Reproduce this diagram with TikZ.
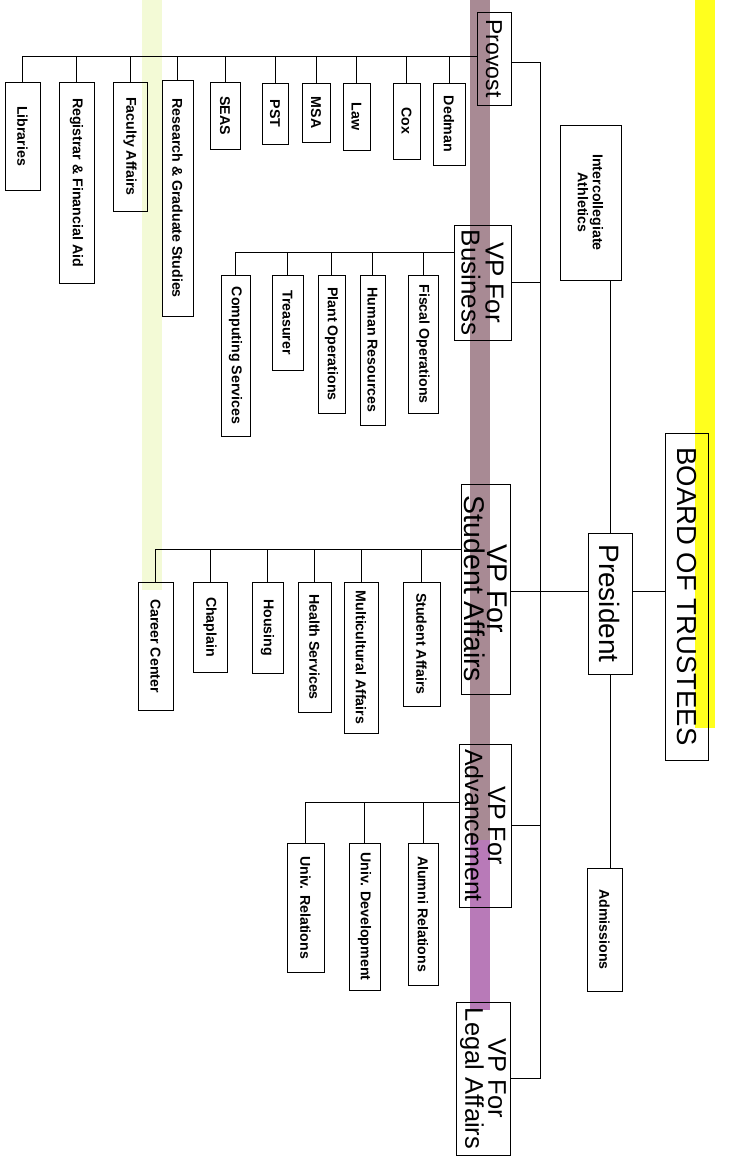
\documentclass[tikz,border=0pt]{standalone}
\usepackage{fontspec}
\setmainfont{Liberation Sans}
\definecolor{stripyellow}{RGB}{255,255,30}
\definecolor{stripmauve}{RGB}{168,138,148}
\definecolor{stripviolet}{RGB}{184,122,184}
\definecolor{stripgreen}{RGB}{243,250,214}
\begin{document}
\begin{tikzpicture}[x=1pt,y=1pt,
  box/.style={draw, line width=0.9pt, rotate=-90, inner sep=0pt, align=center,
              font=\fontsize{14.2}{15}\selectfont\bfseries},
  big/.style={draw, line width=0.9pt, rotate=-90, inner sep=0pt, align=center},
  conn/.style={draw, line width=0.9pt}]
\useasboundingbox (0,0) rectangle (730,-1159);
% colour bands of the reference
\fill[stripyellow] (695,0) rectangle (715,-728);
\fill[stripmauve] (470,0) rectangle (490,-840);
\fill[stripviolet] (470,-840) rectangle (490,-1010);
\fill[stripgreen] (142,0) rectangle (162,-590);

% top level
\node[big, minimum width=327, minimum height=43, font=\fontsize{27.5}{28}\selectfont] (bot) at (686.5,-596.5) {BOARD OF TRUSTEES};
\node[big, minimum width=141, minimum height=44, font=\fontsize{28}{28}\selectfont] (president) at (610,-603.5) {President};
\node[box, minimum width=155, minimum height=61] (ath) at (590.5,-202.5) {Intercollegiate\\Athletics};
\node[box, minimum width=123, minimum height=35] (adm) at (604.5,-929.5) {Admissions};

% VPs
\node[big, minimum width=93, minimum height=34, font=\fontsize{23}{25}\selectfont] (provost) at (494,-58.5) {Provost};
\node[big, minimum width=115, minimum height=57, font=\fontsize{26}{24}\selectfont] (business) at (482.5,-282.5) {VP For\\Business};
\node[big, minimum width=210, minimum height=49, font=\fontsize{28.5}{23}\selectfont] (sa) at (485.5,-589) {VP For\\Student Affairs};
\node[big, minimum width=163, minimum height=52, font=\fontsize{25}{23}\selectfont] (adv) at (485,-825.5) {VP For\\Advancement};
\node[big, minimum width=153, minimum height=54, font=\fontsize{25.5}{23}\selectfont] (legal) at (483,-1078.5) {VP For\\Legal Affairs};

% Provost units
\node[box, minimum width=108, minimum height=35] (lib) at (22.5,-136) {Libraries};
\node[box, minimum width=201, minimum height=35] (reg) at (76.5,-182.5) {Registrar \& Financial Aid};
\node[box, minimum width=129, minimum height=34] (fac) at (130,-146.5) {Faculty Affairs};
\node[box, minimum width=236, minimum height=31] (res) at (177.5,-198) {Research \& Graduate Studies};
\node[box, minimum width=67, minimum height=30] (seas) at (225,-115.5) {SEAS};
\node[box, minimum width=61, minimum height=26] (pst) at (275,-113.5) {PST};
\node[box, minimum width=59, minimum height=28] (msa) at (316,-112.5) {MSA};
\node[box, minimum width=67, minimum height=27] (law) at (356.5,-116.5) {Law};
\node[box, minimum width=76, minimum height=27] (cox) at (406.5,-121) {Cox};
\node[box, minimum width=82, minimum height=32] (ded) at (449,-124) {Dedman};

% Business units
\node[box, minimum width=138, minimum height=30] (fis) at (423,-344) {Fiscal Operations};
\node[box, minimum width=150, minimum height=25] (hr) at (372.5,-350) {Human Resources};
\node[box, minimum width=138, minimum height=27] (plant) at (331.5,-344) {Plant Operations};
\node[box, minimum width=95, minimum height=31] (tre) at (287.5,-322.5) {Treasurer};
\node[box, minimum width=161, minimum height=29] (comp) at (235.5,-355.5) {Computing Services};

% Student Affairs units
\node[box, minimum width=124, minimum height=37] (stu) at (421.5,-644) {Student Affairs};
\node[box, minimum width=151, minimum height=34] (mult) at (361,-657.5) {Multicultural Affairs};
\node[box, minimum width=130, minimum height=33] (health) at (314.5,-647) {Health Services};
\node[box, minimum width=91, minimum height=31] (hous) at (267.5,-627.5) {Housing};
\node[box, minimum width=90, minimum height=34] (chap) at (210,-627) {Chaplain};
\node[box, minimum width=128, minimum height=35] (car) at (155.5,-646) {Career Center};

% Advancement units
\node[box, minimum width=142, minimum height=30] (alum) at (423,-914) {Alumni Relations};
\node[box, minimum width=147, minimum height=31] (dev) at (364.5,-916.5) {Univ. Development};
\node[box, minimum width=129, minimum height=37] (rel) at (305.5,-907.5) {Univ. Relations};

% buses
\coordinate (pbus) at (477,-56);
\coordinate (bbus) at (454,-252);
\coordinate (sbus) at (461,-549);
\coordinate (abus) at (459,-802);
\foreach \n in {lib,reg,fac,res,seas,pst,msa,law,cox,ded} \draw[conn] (\n.west) |- (pbus);
\foreach \n in {fis,hr,plant,tre,comp} \draw[conn] (\n.west) |- (bbus);
\foreach \n in {stu,mult,health,hous,chap,car} \draw[conn] (\n.west) |- (sbus);
\foreach \n in {alum,dev,rel} \draw[conn] (\n.west) |- (abus);

% spine of vice presidents
\coordinate (sp1) at (540,-62);
\coordinate (sp5) at (540,-1078);
\coordinate (lvl) at (540,-591);
\draw[conn] (sp1 -| provost.north) -- (sp1) -- (sp5) -- (sp5 -| legal.north);
\draw[conn] (business.north) -- (business.north -| sp1);
\draw[conn] (adv.north) -- (adv.north -| sp1);
\draw[conn] (lvl -| sa.north) -- (lvl -| president.south);
\draw[conn] (lvl -| president.north) -- (lvl -| bot.south);
\draw[conn] (president.west) -- (president.west |- ath.east);
\draw[conn] (president.east) -- (president.east |- adm.west);
\end{tikzpicture}
\end{document}
